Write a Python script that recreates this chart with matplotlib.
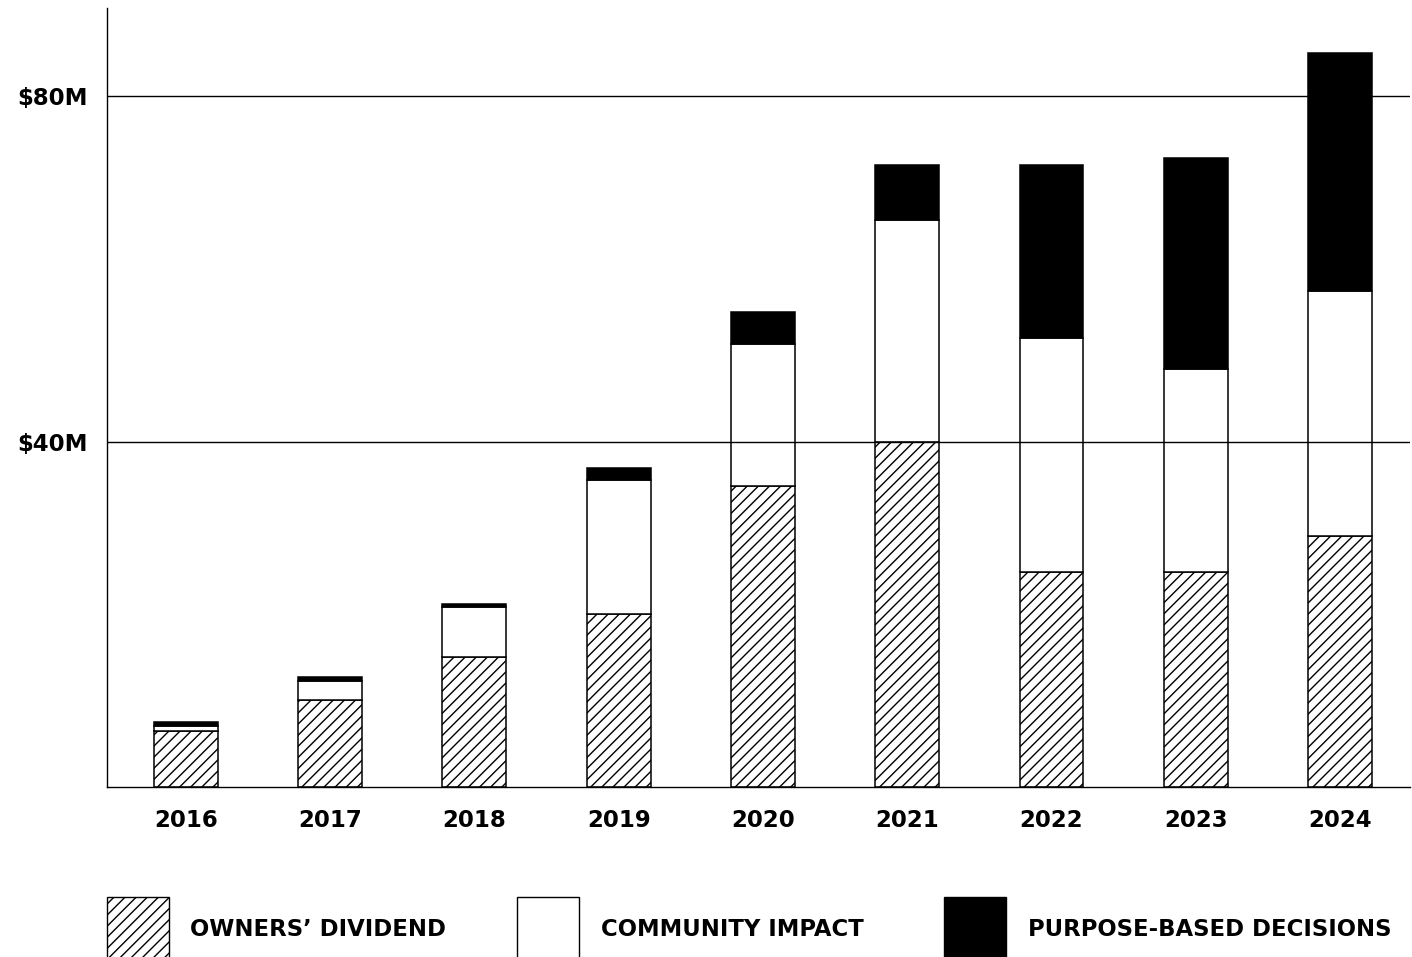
import matplotlib
matplotlib.use('Agg')
import matplotlib.pyplot as plt
from matplotlib.patches import Rectangle
import numpy as np

# values in $M
years = ['2016', '2017', '2018', '2019', '2020', '2021', '2022', '2023', '2024']
owners_dividend = [6.5, 10.1, 15.0, 20.0, 34.8, 40.0, 24.9, 24.9, 29.1]
community_impact = [0.6, 2.2, 5.8, 15.5, 16.5, 25.6, 27.1, 23.5, 28.3]
purpose_based = [0.4, 0.4, 0.4, 1.4, 3.7, 6.4, 20.0, 24.4, 27.6]

y_ticks = [40, 80]
y_tick_labels = ['$40M', '$80M']
legend_labels = ['OWNERS\u2019 DIVIDEND', 'COMMUNITY IMPACT', 'PURPOSE-BASED DECISIONS']

plt.rcParams['font.family'] = ['DejaVu Sans']
plt.rcParams['hatch.linewidth'] = 1.0

W, H = 1412, 957
fig = plt.figure(figsize=(W / 100, H / 100), dpi=100)
ax = fig.add_axes([107 / W, 1 - 787 / H, (1410 - 107) / W, (787 - 8) / H])

x = np.arange(len(years))
width = 0.443
edge = dict(edgecolor='black', linewidth=1.1)

b1 = np.array(owners_dividend)
b2 = b1 + np.array(community_impact)

ax.bar(x, owners_dividend, width, color='white', hatch='///', zorder=2, **edge)
ax.bar(x, community_impact, width, bottom=b1, color='white', zorder=2, **edge)
ax.bar(x, purpose_based, width, bottom=b2, color='black', zorder=2, **edge)

for yv in y_ticks:
    ax.axhline(yv, color='black', linewidth=1.0, zorder=3)

ax.set_xlim(-0.547, 8.485)
ax.set_ylim(0, 90.2)
ax.set_xticks(x)
ax.set_xticklabels(years, fontsize=16.5, fontweight='bold')
ax.set_yticks(y_ticks)
ax.set_yticklabels(y_tick_labels, fontsize=16.5, fontweight='bold')
ax.tick_params(axis='both', length=0)
ax.tick_params(axis='x', pad=16)
ax.tick_params(axis='y', pad=14)

for s in ['top', 'right']:
    ax.spines[s].set_visible(False)
for s in ['left', 'bottom']:
    ax.spines[s].set_linewidth(1.0)

# legend drawn by hand at the bottom
box_x = [107, 517, 944]
text_x = [190, 601, 1028]
styles = [dict(facecolor='white', hatch='///'),
          dict(facecolor='white'),
          dict(facecolor='black')]
for bx, tx, st, lab in zip(box_x, text_x, styles, legend_labels):
    r = Rectangle((bx / W, 1 - 960 / H), 62 / W, 63 / H,
                  transform=fig.transFigure, edgecolor='black',
                  linewidth=1.0, **st)
    fig.add_artist(r)
    fig.text(tx / W, 1 - 929 / H, lab, fontsize=16.4, fontweight='bold',
             va='center', ha='left')

fig.savefig('out.png', dpi=100)
